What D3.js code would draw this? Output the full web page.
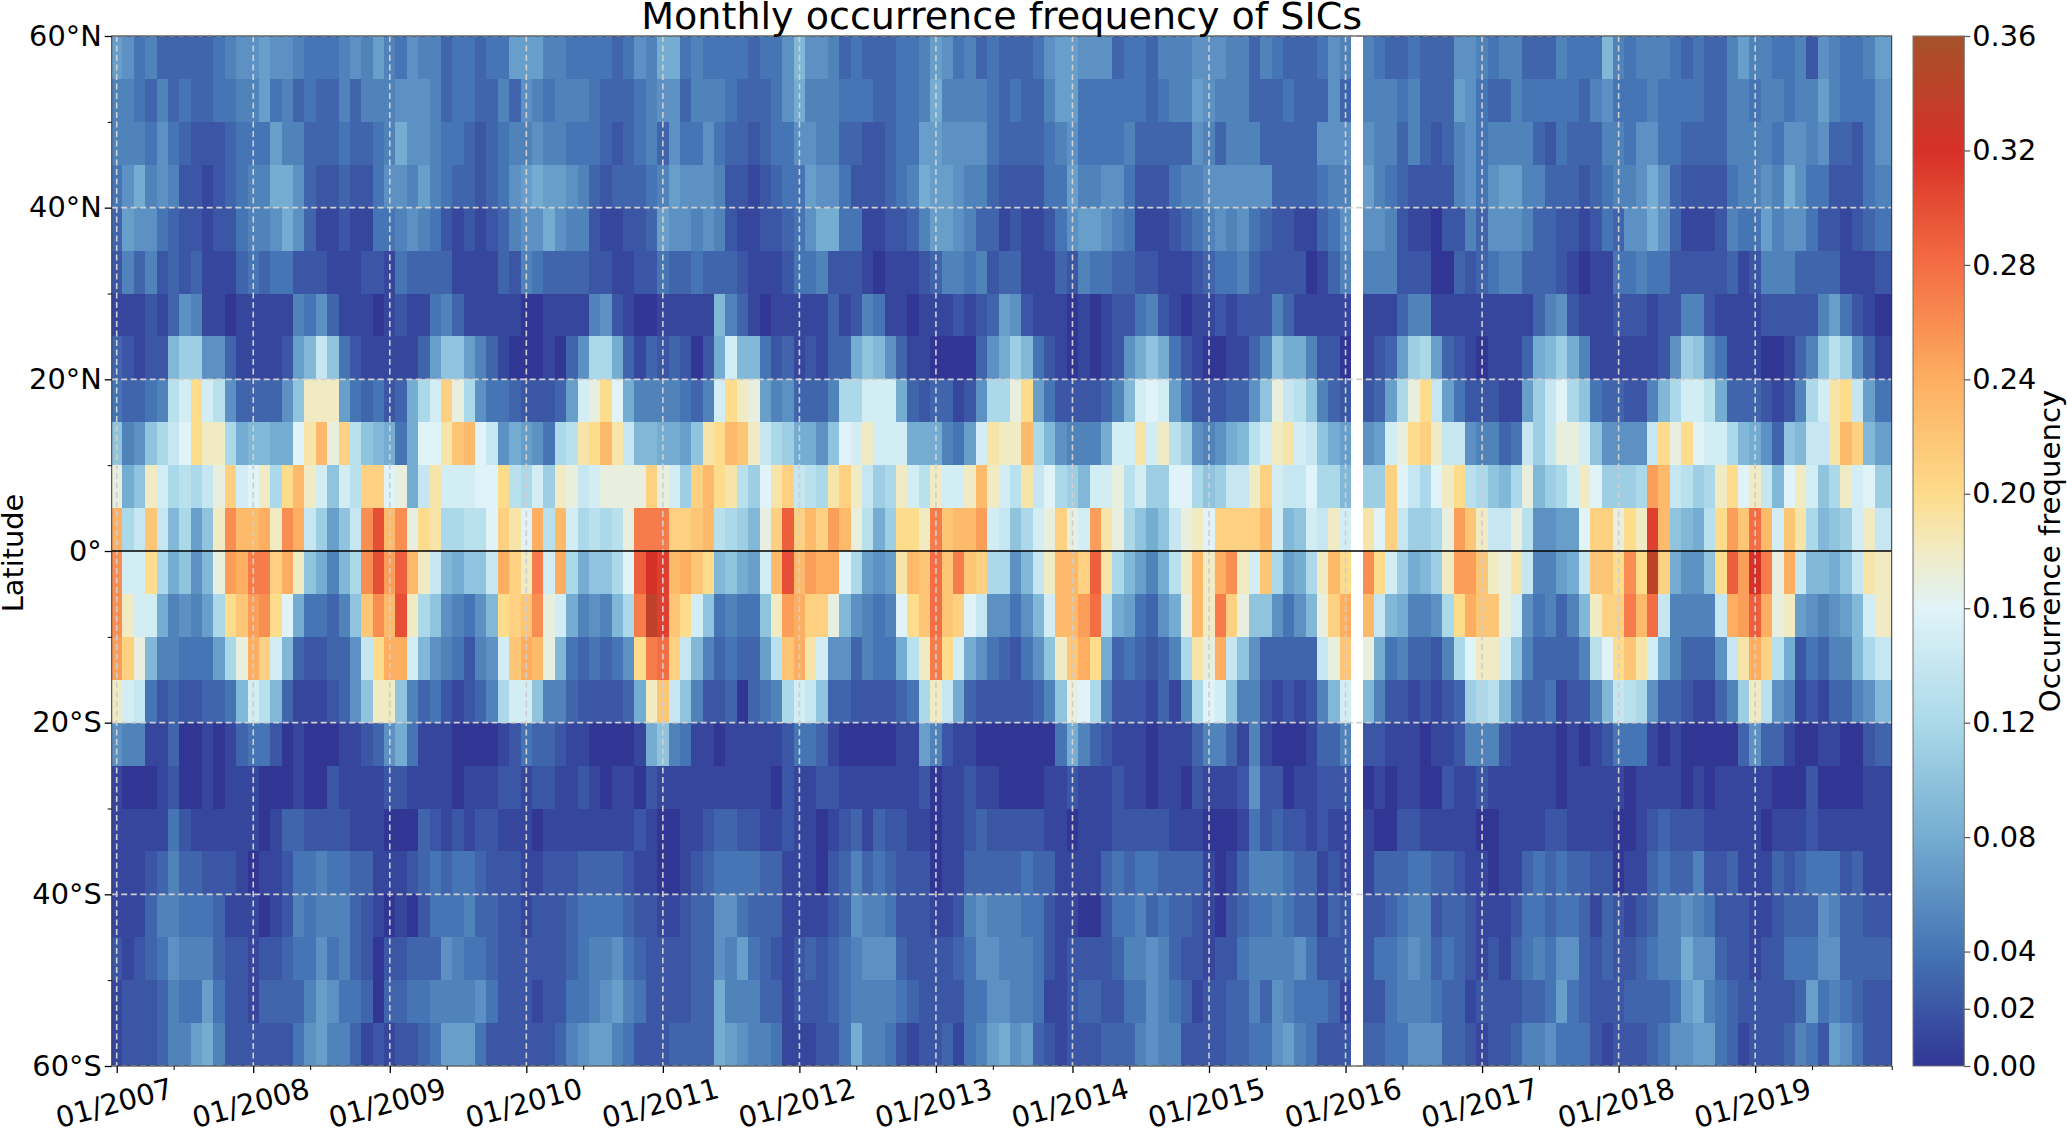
<!DOCTYPE html>
<html>
<head>
<meta charset="utf-8">
<script src="https://cdn.jsdelivr.net/npm/d3@7"></script>
<style>
  html, body { margin: 0; padding: 0; background: #fff; }
  svg { display: block; }
  text { font-family: "DejaVu Sans", sans-serif; fill: #000; }
</style>
</head>
<body>
<div id="graph"></div>
<script>
// occurrence frequency in percent, one array per 5 degree band, months 01/2007 - 12/2019
var lat60N = [7,6,4,5,3,3,3,3,3,4,5,6, 6,7,6,6,5,4,4,4,5,6,5,7, 5,4,6,5,5,3,4,4,3,4,4,7, 7,7,5,5,4,4,4,4,3,4,6,5, 8,8,4,5,4,4,4,4,3,4,4,6, 9,6,6,5,3,4,3,3,3,4,4,5, 7,6,4,5,3,4,3,3,3,4,6,7, 7,6,6,6,3,4,4,3,5,5,5,6, 6,6,5,5,3,5,4,3,3,3,4,6, 5,null,5,4,3,3,4,3,3,3,6,6, 5,4,5,5,3,3,3,5,4,4,4,9, 5,4,5,5,5,4,3,4,3,3,5,7, 5,5,4,4,5,2,6,5,4,4,5,7];
var lat55N = [5,5,4,3,5,3,4,3,3,4,4,5, 5,7,4,5,3,4,3,3,5,3,5,5, 5,6,6,6,5,3,4,4,3,3,5,3, 6,5,4,5,5,5,4,3,3,3,4,5, 6,6,3,5,5,5,4,3,3,3,4,6, 8,5,5,5,4,4,4,3,3,4,4,5, 8,5,5,5,5,4,3,4,3,3,5,7, 7,4,4,4,4,4,4,3,4,5,5,7, 6,5,5,5,3,3,3,4,3,3,3,6, 3,null,5,5,5,4,5,3,3,3,7,6, 4,3,3,5,4,4,4,4,4,3,5,6, 4,4,4,5,4,4,4,4,3,3,5,5, 4,5,5,4,5,5,7,5,4,4,4,6];
var lat50N = [5,5,5,4,6,4,3,2,2,2,3,4, 4,4,7,5,5,3,3,3,4,3,3,4, 5,8,6,6,5,4,4,3,2,3,4,5, 5,6,5,5,4,4,4,3,2,3,4,5, 3,6,4,4,6,4,3,3,2,3,4,4, 6,6,5,5,3,3,2,2,3,4,4,7, 7,6,6,6,6,4,3,3,3,3,4,5, 6,4,4,4,4,5,3,3,3,3,3,6, 5,3,5,5,5,3,3,3,3,3,6,6, 6,null,6,5,5,3,5,3,2,3,5,6, 4,5,5,5,5,3,2,4,3,3,3,5, 5,4,6,6,4,4,3,3,3,3,5,5, 5,5,4,6,6,5,6,3,3,2,4,6];
var lat45N = [4,6,8,5,6,5,2,2,1,2,3,4, 5,5,8,8,6,3,2,2,3,2,2,4, 6,6,5,7,5,4,3,3,2,3,4,6, 7,8,7,7,6,5,3,2,3,3,3,4, 5,7,6,6,6,5,2,2,1,2,3,4, 4,7,6,6,4,2,2,2,3,4,5,8, 7,7,6,5,5,3,2,2,2,2,4,4, 7,5,5,6,6,4,2,2,2,4,5,5, 6,6,6,6,6,6,3,3,3,3,4,5, 5,null,7,5,4,3,2,2,2,2,5,6, 4,6,7,7,5,5,3,3,3,2,3,4, 5,5,6,8,6,3,2,2,2,2,4,5, 5,6,5,8,6,4,4,2,2,2,4,5];
var lat40N = [3,7,6,6,4,3,2,2,1,2,2,4, 5,5,6,8,6,3,1,1,2,1,1,4, 4,5,6,5,4,2,1,2,1,2,3,5, 6,6,8,6,5,5,2,1,1,2,2,3, 7,6,6,5,6,5,2,1,1,2,2,3, 4,6,8,8,4,4,1,1,2,2,3,5, 7,7,6,5,3,3,1,2,1,1,2,4, 6,7,7,6,5,4,1,1,1,2,3,4, 5,6,5,6,4,3,2,2,1,1,3,4, 6,null,6,6,5,2,1,1,0,2,2,5, 3,6,6,6,5,3,3,2,2,1,2,4, 3,6,6,8,6,3,1,1,1,2,5,4, 4,7,5,6,6,4,2,2,1,2,3,4];
var lat35N = [2,5,3,5,2,3,2,3,1,1,1,3, 4,3,4,4,2,2,2,1,1,1,2,2, 1,4,3,3,3,3,1,1,1,1,3,2, 5,4,3,3,3,3,2,2,1,1,2,2, 4,3,3,4,3,3,3,2,1,1,1,2, 4,4,5,2,2,2,1,0,1,1,1,2, 3,5,5,4,5,2,3,3,1,1,1,3, 2,5,4,4,3,3,2,2,1,1,1,2, 3,4,4,5,3,2,2,2,2,0,1,3, 5,null,5,5,5,2,2,2,0,0,3,2, 3,4,5,5,3,3,3,2,1,0,1,1, 4,4,5,4,4,2,2,2,2,2,3,1, 2,5,5,5,3,3,3,3,1,1,1,2];
var lat30N = [1,1,1,2,1,3,6,5,1,1,0,1, 1,1,1,1,5,4,6,3,1,1,1,0, 1,2,1,1,4,5,3,1,1,1,1,1, 0,0,1,1,1,1,5,6,2,1,0,0, 1,1,1,1,1,9,5,3,1,0,1,1, 1,1,1,3,1,2,5,4,1,1,0,1, 1,1,2,1,2,3,7,6,2,1,1,1, 0,1,0,1,2,2,4,5,2,1,0,1, 1,2,1,2,2,2,5,3,1,1,1,1, 1,null,1,1,1,3,5,5,1,1,1,1, 1,1,1,1,1,3,5,6,2,1,1,1, 2,2,2,1,2,2,5,5,2,1,1,1, 1,2,2,2,2,2,5,7,4,2,1,0];
var lat25N = [3,2,1,2,2,9,11,11,6,6,3,1, 1,1,1,2,7,9,14,10,4,2,1,1, 1,1,1,3,7,10,10,7,5,3,1,0, 0,0,1,0,3,6,12,12,8,3,1,3, 2,3,2,0,2,8,15,9,9,4,2,3, 1,2,1,3,3,8,10,9,6,3,1,1, 0,0,0,0,3,6,8,11,9,4,2,1, 0,1,0,1,2,6,8,10,8,4,2,1, 0,0,1,1,3,5,10,8,8,5,2,2, 0,null,1,2,3,7,11,12,7,3,2,1, 0,1,1,1,3,8,9,11,8,5,1,1, 1,1,1,1,2,6,11,10,6,4,1,1, 1,0,0,1,3,5,10,13,11,6,3,1];
var lat20N = [4,3,3,4,5,13,15,20,15,13,6,3, 3,3,3,6,10,18,18,18,7,4,3,4, 2,3,8,12,15,21,17,12,6,4,4,3, 2,2,2,3,7,15,17,20,16,8,5,5, 5,5,4,3,5,15,20,18,17,7,5,6, 3,3,3,5,12,12,15,15,15,8,3,2, 3,3,1,2,6,12,12,17,20,7,4,2, 2,2,2,3,5,9,15,16,15,7,4,2, 2,2,3,3,6,10,17,14,13,10,5,3, 2,null,2,3,7,12,17,20,14,7,4,2, 2,2,1,1,7,11,14,16,12,10,4,3, 3,2,2,5,9,12,15,15,13,8,3,3, 3,2,1,2,5,12,15,19,20,14,7,4];
var lat15N = [10,5,6,10,12,14,16,20,18,18,12,8, 9,9,8,8,16,19,23,17,21,13,10,9, 8,4,8,16,16,19,22,23,16,14,6,8, 7,6,4,12,13,19,20,23,19,14,9,9, 8,8,7,10,19,20,23,22,18,14,12,11, 8,8,6,10,16,15,18,15,15,15,8,8, 8,5,4,7,15,19,18,18,23,12,9,6, 5,5,5,8,15,15,19,15,18,13,11,6, 5,6,8,9,13,15,18,19,15,14,10,8, 7,null,6,7,15,17,20,21,18,14,14,6, 5,5,3,4,14,11,14,17,17,15,10,6, 6,6,6,14,20,17,20,16,15,15,12,9, 8,6,3,10,9,14,14,19,23,21,9,7];
var lat10N = [17,8,10,18,15,12,13,12,14,17,21,15, 16,18,12,20,23,18,15,10,15,13,21,21, 16,17,8,14,19,15,15,15,16,16,20,13, 12,15,11,18,17,14,15,17,17,17,17,21, 17,15,11,21,23,20,19,13,11,16,19,21, 14,13,12,19,21,18,14,11,12,18,15,13, 18,15,15,18,23,18,15,13,19,14,16,12, 11,9,15,15,17,13,15,11,11,16,16,12, 10,11,14,14,18,21,15,14,14,16,12,12, 9,null,11,11,21,16,14,12,16,18,20,13, 12,10,9,12,17,9,11,12,15,18,16,11, 11,11,12,25,23,14,13,11,12,18,20,16, 18,14,9,16,18,15,10,12,18,15,16,11];
var lat5N = [24,12,14,22,14,9,12,7,10,18,26,23, 23,24,18,26,24,14,11,7,10,14,26,30, 23,26,17,20,19,12,12,13,13,16,21,19, 16,24,13,23,15,12,13,12,13,17,27,27, 27,21,21,22,23,13,12,11,9,17,21,29, 21,23,21,25,23,17,13,8,11,20,20,18, 27,22,23,23,25,15,14,10,12,15,17,21, 17,15,25,19,17,12,10,8,10,14,17,18, 16,21,21,21,21,23,15,9,10,15,14,18, 15,null,19,16,21,14,11,11,12,17,25,22, 18,14,14,17,13,6,6,7,7,16,21,21, 17,20,18,31,23,10,9,8,13,20,25,22, 28,23,15,22,19,12,9,10,11,15,18,14];
var lat0 = [26,15,15,20,12,8,10,6,9,17,25,24, 27,27,21,24,18,10,8,5,9,12,26,30, 25,29,23,18,14,9,8,10,10,14,24,21, 18,27,15,24,12,8,10,10,12,16,29,32, 31,23,24,22,20,9,10,8,7,15,23,30, 23,25,24,24,16,12,7,6,7,19,23,22, 28,22,27,22,21,12,12,6,9,14,18,23, 23,21,29,19,12,9,7,5,8,13,18,23, 18,24,26,18,15,22,12,7,8,12,18,23, 20,null,26,20,15,11,8,9,11,18,25,25, 22,18,17,19,14,5,5,7,8,14,22,22, 20,26,20,34,21,8,6,6,10,20,29,25, 32,27,17,24,14,9,9,8,10,14,19,18];
var lat5S = [26,18,15,15,8,5,6,5,7,12,20,22, 25,26,20,16,8,4,4,3,5,10,22,26, 23,30,18,12,10,6,5,4,6,9,20,21, 22,26,17,15,8,5,6,5,9,12,27,34, 31,22,20,15,10,4,5,4,4,10,18,25, 24,21,21,17,9,6,5,4,5,16,20,22, 28,22,21,16,14,6,6,4,6,9,15,23, 23,25,28,13,8,7,4,3,6,8,17,23, 18,27,21,17,10,10,6,4,6,9,17,21, 24,null,23,14,9,8,5,5,6,12,20,24, 22,22,17,15,6,4,5,3,5,9,18,21, 21,27,23,28,14,5,5,5,5,14,24,25, 29,24,17,18,7,6,5,6,7,9,15,18];
var lat10S = [25,21,17,9,5,5,4,4,4,7,12,17, 24,21,15,9,3,2,2,3,3,6,14,20, 24,24,15,9,6,5,4,2,5,6,15,22, 24,23,17,9,4,3,4,3,4,6,20,27, 28,21,14,9,5,3,4,3,3,7,13,22, 24,19,15,6,6,3,5,4,4,8,13,18, 27,20,15,8,6,4,3,2,4,6,10,18, 22,24,20,8,3,4,3,2,3,5,12,19, 17,24,14,10,6,3,3,3,3,3,14,17, 22,null,17,8,4,5,3,3,2,5,12,16, 18,18,15,10,5,3,3,3,3,5,13,16, 20,22,19,15,8,5,3,3,3,6,14,19, 24,21,13,8,2,4,3,5,5,9,12,14];
var lat15S = [18,15,14,4,2,3,2,2,3,3,4,9, 15,13,9,3,1,1,1,2,3,6,10,18, 18,10,5,3,4,2,1,2,3,5,12,15, 15,10,5,5,3,2,2,2,2,3,8,18, 22,14,10,5,2,2,3,0,3,4,5,12, 15,14,10,3,3,2,2,2,2,3,4,12, 18,14,8,3,2,2,2,2,2,3,5,10, 17,16,12,5,2,2,2,1,3,1,5,12, 16,15,10,5,5,2,1,2,1,2,5,9, 15,null,9,5,2,2,1,2,1,2,3,11, 12,13,9,5,3,3,4,1,2,2,5,9, 14,13,12,6,3,3,2,1,1,3,5,11, 18,13,6,5,1,2,1,3,3,5,6,9];
var lat20S = [6,5,5,1,1,3,0,0,1,0,1,3, 4,4,2,0,1,0,0,0,1,1,2,3, 6,8,4,1,1,1,0,0,0,0,1,2, 4,3,3,2,1,1,0,0,0,0,1,8, 10,5,4,1,1,0,1,1,1,1,1,2, 4,4,3,1,0,0,0,0,0,1,1,7, 5,2,1,1,0,0,0,0,0,0,0,4, 8,5,3,2,1,1,1,0,1,1,1,3, 5,5,3,1,5,1,0,0,0,1,3,3, 5,null,2,2,1,1,1,0,1,1,2,5, 5,5,2,1,1,1,1,0,1,0,1,2, 4,4,4,1,0,1,0,0,0,0,0,3, 6,3,3,1,0,0,1,1,0,0,2,3];
var lat25S = [1,0,0,0,1,2,0,0,1,0,1,1, 1,0,0,0,1,0,0,2,1,1,1,1, 2,2,1,1,1,1,0,1,1,1,2,2, 1,2,2,1,1,2,1,0,1,1,0,2, 1,1,1,1,1,1,1,1,1,1,0,2, 1,1,2,2,1,1,1,1,1,1,1,2, 0,1,1,2,1,1,0,0,0,0,1,1, 2,1,1,1,2,1,1,0,1,1,0,2, 1,1,1,2,6,2,2,0,1,1,2,2, 2,null,0,1,0,1,1,0,0,2,1,1, 2,1,1,1,1,1,1,0,1,1,1,1, 1,0,1,1,1,1,0,1,0,1,1,1, 1,1,0,0,0,2,0,0,0,0,1,1];
var lat30S = [1,1,1,1,1,4,2,1,1,1,1,1, 1,0,1,3,3,2,2,2,2,1,1,1, 0,0,0,3,2,1,2,1,2,2,1,1, 1,0,1,1,1,1,1,1,1,1,2,1, 0,0,1,1,2,3,3,2,2,1,1,2, 1,1,0,1,2,3,1,3,2,2,1,1, 0,1,1,2,3,2,2,2,2,2,1,1, 0,1,1,1,2,2,2,2,2,1,1,1, 0,0,0,1,4,2,3,2,2,1,2,1, 1,null,1,0,0,2,2,1,1,1,1,1, 0,0,1,1,1,1,2,2,1,1,1,1, 0,0,1,2,3,2,2,2,1,1,1,1, 1,0,1,1,1,2,1,1,1,1,1,1];
var lat35S = [1,1,1,2,3,5,3,3,2,2,2,1, 0,1,1,2,4,4,5,4,4,3,3,1, 1,1,2,3,4,3,4,4,3,2,2,2, 1,1,2,2,2,3,3,3,3,2,1,1, 0,0,1,2,3,4,4,4,4,3,3,1, 1,1,0,2,3,5,3,4,3,2,2,2, 0,1,1,3,3,3,3,3,4,3,3,1, 1,1,1,3,4,3,4,4,3,3,3,3, 1,0,1,3,5,5,5,4,3,3,1,2, 1,null,1,3,3,3,4,4,3,3,2,1, 1,0,1,1,3,4,3,4,3,3,2,2, 0,1,1,3,4,3,3,5,2,2,3,1, 1,1,3,2,3,4,4,4,2,3,1,1];
var lat40S = [1,1,1,3,5,5,4,4,4,3,1,1, 1,0,1,2,5,4,5,5,5,3,2,1, 0,1,0,2,4,4,4,5,3,3,2,2, 1,2,2,2,3,4,4,4,4,3,2,2, 1,1,2,3,3,6,6,4,3,3,3,1, 1,1,1,2,3,6,5,5,4,2,2,2, 1,1,2,5,6,5,5,5,4,4,2,1, 1,0,0,2,4,4,5,3,4,3,3,2, 1,0,2,3,4,4,5,4,3,3,1,3, 2,null,2,2,3,4,5,5,2,3,3,2, 1,1,1,2,4,4,3,4,4,3,1,3, 2,1,2,3,5,5,6,5,4,2,2,2, 1,1,2,3,3,3,6,5,3,3,2,2];
var lat45S = [2,1,2,3,4,6,5,5,5,3,2,2, 1,2,2,3,4,4,6,4,5,3,2,0, 2,2,3,3,3,6,5,4,4,3,2,2, 2,2,2,2,3,4,5,5,6,4,3,2, 2,2,2,3,3,6,5,7,4,3,2,1, 2,3,2,3,4,5,6,6,6,3,2,2, 2,2,3,4,6,6,5,5,5,4,2,1, 2,2,2,2,3,5,5,6,5,3,2,2, 1,2,2,4,5,5,5,5,6,4,2,2, 2,null,2,4,4,5,6,5,3,4,3,2, 1,2,1,3,4,5,4,6,6,3,2,3, 2,2,3,4,5,5,8,6,6,3,2,2, 1,2,2,4,4,4,6,6,3,3,3,3];
var lat50S = [1,2,2,2,3,5,4,4,7,4,2,2, 1,3,3,3,3,5,7,6,4,4,3,0, 3,3,4,4,5,5,5,5,6,4,2,2, 2,1,2,2,4,4,5,6,7,5,4,2, 2,2,2,3,3,8,5,5,5,3,3,1, 2,2,2,3,4,5,5,5,5,4,3,2, 2,2,2,4,4,6,6,5,5,4,1,1, 2,3,3,2,2,4,4,6,5,4,3,1, 2,2,3,3,5,3,6,5,4,4,4,3, 1,null,2,2,4,5,5,5,4,3,3,1, 2,2,2,2,3,3,4,7,4,3,2,2, 2,3,3,3,3,4,7,8,5,4,3,2, 2,2,2,2,3,7,4,5,4,3,2,2];
var lat55S = [1,2,2,2,3,5,5,7,8,5,2,2, 2,2,2,2,4,6,7,5,5,3,1,2, 1,2,2,3,4,7,7,7,4,2,2,2, 2,2,2,3,5,6,7,7,5,4,2,2, 2,3,3,3,3,8,7,6,5,5,4,1, 1,1,2,2,4,8,5,5,4,2,1,2, 2,3,1,4,5,7,8,6,7,3,2,1, 2,2,2,3,3,3,5,6,5,5,2,2, 2,2,3,3,4,4,6,7,5,4,2,2, 2,null,3,3,4,4,6,6,6,3,3,2, 1,2,2,3,5,5,6,4,4,4,2,1, 2,2,2,3,4,6,6,7,7,4,3,1, 2,2,2,3,5,4,2,7,6,4,2,2];

// north edge of each band, and the matching row
var bandNorth = [60,55,50,45,40,35,30,25,20,15,10,5,0,-5,-10,-15,-20,-25,-30,-35,-40,-45,-50,-55];
var bandRows = [lat60N,lat55N,lat50N,lat45N,lat40N,lat35N,lat30N,lat25N,lat20N,lat15N,lat10N,lat5N,lat0,lat5S,lat10S,lat15S,lat20S,lat25S,lat30S,lat35S,lat40S,lat45S,lat50S,lat55S];

var xTickMonths = [0,12,24,36,48,60,72,84,96,108,120,132,144];
var xTickLabels = ["01/2007","01/2008","01/2009","01/2010","01/2011","01/2012","01/2013","01/2014","01/2015","01/2016","01/2017","01/2018","01/2019"];
var xMinorMonths = [5,17,29,41,53,65,77,89,101,113,125,137,149,156];
var yTicks = [60,40,20,0,-20,-40,-60];
var yTickLabels = ["60°N","40°N","20°N","0°","20°S","40°S","60°S"];
var yMinor = [50,30,10,-10,-30,-50];
var yGrid = [40,20,-20,-40];
var cbTicks = [0,0.02,0.04,0.08,0.12,0.16,0.20,0.24,0.28,0.32,0.36];

var colorStops = [0,0.04,0.08,0.12,0.16,0.18,0.20,0.24,0.28,0.32,0.36];
var colorValues = ["#313695","#4575b4","#74add1","#abd9e9","#e0f3f8","#f1ebc4","#fddc8b","#fdae61","#f46d43","#d73027","#a5522a"];

var W = 2067, H = 1129;
var left = 111.7, right = 1891.7, top_ = 36, bottom = 1066;
var fontSize = 28.8;

var svg = d3.select("#graph").append("svg").attr("width", W).attr("height", H);

var x = d3.scaleLinear().domain([-0.44, 156]).range([left, right]);
var y = d3.scaleLinear().domain([-60, 60]).range([bottom, top_]);
var color = d3.scaleLinear().domain(colorStops).range(colorValues);
var cbY = d3.scaleLinear().domain([0, 0.36]).range([bottom, top_]);

// heatmap cells
var cells = [];
bandRows.forEach(function(row, r) {
  row.forEach(function(v, m) {
    if (v !== null) cells.push({month: m, north: bandNorth[r], value: v / 100});
  });
});

svg.append("g").selectAll("rect")
  .data(cells)
  .enter().append("rect")
    .attr("x", function(d) { return Math.max(x(d.month - 0.5), left); })
    .attr("width", function(d) {
      var x0 = Math.max(x(d.month - 0.5), left);
      var x1 = d.month === 155 ? right : x(d.month + 0.5);
      return x1 - x0;
    })
    .attr("y", function(d) { return y(d.north); })
    .attr("height", function(d) { return y(d.north - 5) - y(d.north); })
    .attr("fill", function(d) { return color(d.value); })
    .attr("shape-rendering", "crispEdges");

// grid
var grid = svg.append("g").attr("stroke", "#cfcfcf").attr("stroke-width", 1.6).attr("stroke-dasharray", "6 3.5").attr("fill", "none");
grid.selectAll("line.v").data(xTickMonths).enter().append("line")
  .attr("x1", function(d) { return x(d); }).attr("x2", function(d) { return x(d); })
  .attr("y1", top_).attr("y2", bottom);
grid.selectAll("line.h").data(yGrid.concat([60, -60])).enter().append("line")
  .attr("x1", left).attr("x2", right)
  .attr("y1", function(d) { return y(d); }).attr("y2", function(d) { return y(d); });

// zero line
svg.append("line")
  .attr("x1", left).attr("x2", right)
  .attr("y1", y(0)).attr("y2", y(0))
  .attr("stroke", "#000").attr("stroke-width", 1.6);

svg.append("rect")
  .attr("x", left).attr("y", top_)
  .attr("width", right - left).attr("height", bottom - top_)
  .attr("fill", "none").attr("stroke", "#333").attr("stroke-width", 1);

// x axis
var xAxis = svg.append("g")
  .attr("transform", "translate(0," + bottom + ")")
  .call(d3.axisBottom(x).tickValues(xTickMonths).tickSize(7).tickFormat(function(d, i) { return xTickLabels[i]; }));
xAxis.select(".domain").remove();
xAxis.selectAll("line").attr("stroke", "#000").attr("stroke-width", 1.3);
xAxis.selectAll("text")
  .attr("font-size", fontSize)
  .attr("text-anchor", "middle")
  .attr("y", 0).attr("dy", "0.35em")
  .attr("transform", "translate(-3,37) rotate(-15)");

var xMinor = svg.append("g")
  .attr("transform", "translate(0," + bottom + ")")
  .call(d3.axisBottom(x).tickValues(xMinorMonths).tickSize(4).tickFormat(""));
xMinor.select(".domain").remove();
xMinor.selectAll("line").attr("stroke", "#000").attr("stroke-width", 1);

// y axis
var yAxis = svg.append("g")
  .attr("transform", "translate(" + left + ",0)")
  .call(d3.axisLeft(y).tickValues(yTicks).tickSize(7).tickPadding(3).tickFormat(function(d, i) { return yTickLabels[i]; }));
yAxis.select(".domain").remove();
yAxis.selectAll("line").attr("stroke", "#000").attr("stroke-width", 1.3);
yAxis.selectAll("text").attr("font-size", fontSize);

var yMinorAxis = svg.append("g")
  .attr("transform", "translate(" + left + ",0)")
  .call(d3.axisLeft(y).tickValues(yMinor).tickSize(4).tickFormat(""));
yMinorAxis.select(".domain").remove();
yMinorAxis.selectAll("line").attr("stroke", "#000").attr("stroke-width", 1);

svg.append("text")
  .attr("transform", "translate(23," + ((top_ + bottom) / 2 + 2) + ") rotate(-90)")
  .attr("text-anchor", "middle")
  .attr("font-size", fontSize)
  .text("Latitude");

svg.append("text")
  .attr("x", (left + right) / 2)
  .attr("y", 29)
  .attr("text-anchor", "middle")
  .attr("font-size", 38.05)
  .text("Monthly occurrence frequency of SICs");

// colorbar
var cbLeft = 1913, cbRight = 1964.3;
var defs = svg.append("defs");
var grad = defs.append("linearGradient").attr("id", "cb")
  .attr("x1", 0).attr("x2", 0).attr("y1", 1).attr("y2", 0);
colorStops.forEach(function(s, i) {
  grad.append("stop").attr("offset", s / 0.36).attr("stop-color", colorValues[i]);
});
svg.append("rect")
  .attr("x", cbLeft).attr("y", top_)
  .attr("width", cbRight - cbLeft).attr("height", bottom - top_)
  .attr("fill", "url(#cb)")
  .attr("stroke", "#777").attr("stroke-width", 1);

var cbAxis = svg.append("g")
  .attr("transform", "translate(" + cbRight + ",0)")
  .call(d3.axisRight(cbY).tickValues(cbTicks).tickSize(6).tickPadding(2).tickFormat(d3.format(".2f")));
cbAxis.select(".domain").remove();
cbAxis.selectAll("line").attr("stroke", "#555").attr("stroke-width", 1.2);
cbAxis.selectAll("text").attr("font-size", fontSize);

svg.append("text")
  .attr("transform", "translate(2060," + ((top_ + bottom) / 2) + ") rotate(-90)")
  .attr("text-anchor", "middle")
  .attr("font-size", 29.2)
  .text("Occurrence frequency");
</script>
</body>
</html>
